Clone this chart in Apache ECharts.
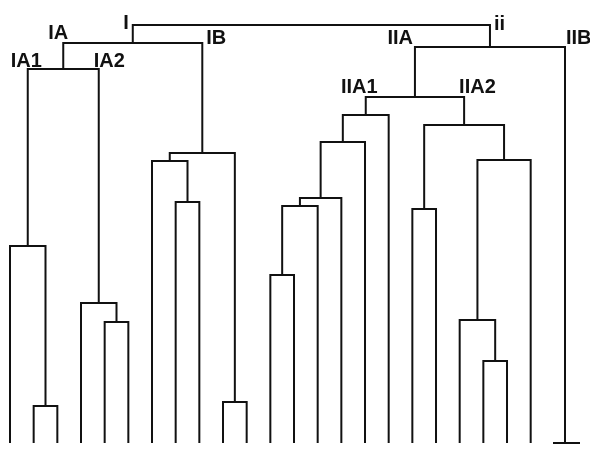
<!DOCTYPE html>
<html><head><meta charset="utf-8">
<script src="https://cdn.jsdelivr.net/npm/echarts@6/dist/echarts.min.js"></script>
<style>html,body{margin:0;padding:0;background:#fff}#c{width:590px;height:449px}</style>
</head><body><div id="c"></div>
<script>
// leaf positions along the x axis (leaf 23 = IIB)
const leafPos = [0,1,2,3,4,5,6,7,8,9,10,11,12,13,14,15,16,17,18,19,20,21,22,23.45];
// linkage: merge k creates node id = leafPos.length + k
const mergeLeft   = [1, 0, 4, 3, 25, 7, 6, 9, 30, 28, 11, 34, 35, 36, 37, 17, 20, 19, 41, 39, 38, 44, 33];
const mergeRight  = [2, 24, 5, 26, 27, 8, 29, 10, 31, 32, 12, 13, 14, 15, 16, 18, 21, 40, 22, 42, 43, 23, 45];
const mergeHeight = [37, 197, 121, 140, 374, 241, 282, 41, 290, 400, 168, 237, 245, 301, 328, 234, 82, 123, 283, 318, 346, 396, 418];
// cluster labels
const labelNode = [33, 45, 28, 32, 25, 27, 44, 23, 38, 43];
const labelText = ['I', 'ii', 'IA', 'IB', 'IA1', 'IA2', 'IIA', 'IIB', 'IIA1', 'IIA2'];

// label placement styles (align, dx, dy in px)
const labelStyle = [
  ['right', -4, 3], ['left', 4, 4], ['center', -5, -5], ['left', 4, 0], ['center', -1.5, -3],
  ['left', -5, -3], ['right', -2, -4], ['left', 1, -4], ['center', -6.5, -5], ['left', -5, -5]
];

const nLeaf = leafPos.length;
const nodeX = leafPos.slice();
const nodeH = leafPos.map(() => 0);
const parentH = [];
mergeLeft.forEach((l, k) => {
  const r = mergeRight[k];
  nodeX.push((nodeX[l] + nodeX[r]) / 2);
  nodeH.push(mergeHeight[k]);
  parentH[l] = mergeHeight[k];
  parentH[r] = mergeHeight[k];
});
const mergeData = mergeLeft.map((l, k) => {
  const r = mergeRight[k];
  return [nodeX[l], nodeH[l], nodeX[r], nodeH[r], mergeHeight[k]];
});
const labelData = labelNode.map((n, i) => [nodeX[n], parentH[n], i]);

const chart = echarts.init(document.getElementById('c'), null, {renderer: 'canvas'});
chart.setOption({
  animation: false,
  backgroundColor: '#fff',
  grid: {left: 10, right: 25, top: 23, bottom: 6},
  xAxis: {type: 'value', min: 0, max: 23.45, show: false},
  yAxis: {type: 'value', min: 0, max: 420, show: false},
  series: [
    {
      type: 'custom',
      clip: false,
      data: mergeData,
      encode: {x: [0, 2], y: [1, 3, 4]},
      renderItem: function (params, api) {
        const p1 = api.coord([api.value(0), api.value(1)]);
        const p2 = api.coord([api.value(0), api.value(4)]);
        const p3 = api.coord([api.value(2), api.value(4)]);
        const p4 = api.coord([api.value(2), api.value(3)]);
        return {type: 'polyline', shape: {points: [p1, p2, p3, p4]},
          style: {stroke: '#111', lineWidth: 2, fill: null, lineJoin: 'miter'}};
      }
    },
    {
      type: 'custom',
      clip: false,
      data: [[leafPos[nLeaf - 1], 0]],
      renderItem: function (params, api) {
        const p = api.coord([api.value(0), api.value(1)]);
        return {type: 'line', shape: {x1: p[0] - 12, y1: p[1], x2: p[0] + 15, y2: p[1]},
          style: {stroke: '#111', lineWidth: 2}};
      }
    },
    {
      type: 'custom',
      clip: false,
      data: labelData,
      renderItem: function (params, api) {
        const p = api.coord([api.value(0), api.value(1)]);
        const i = api.value(2);
        const st = labelStyle[i];
        return {type: 'text', x: p[0] + st[1], y: p[1] + st[2] + 5,
          style: {text: labelText[i], fill: '#111', font: 'bold 20px "Liberation Sans", Arial, sans-serif',
            align: st[0], verticalAlign: 'bottom'}};
      }
    }
  ]
});
</script>
</body></html>
